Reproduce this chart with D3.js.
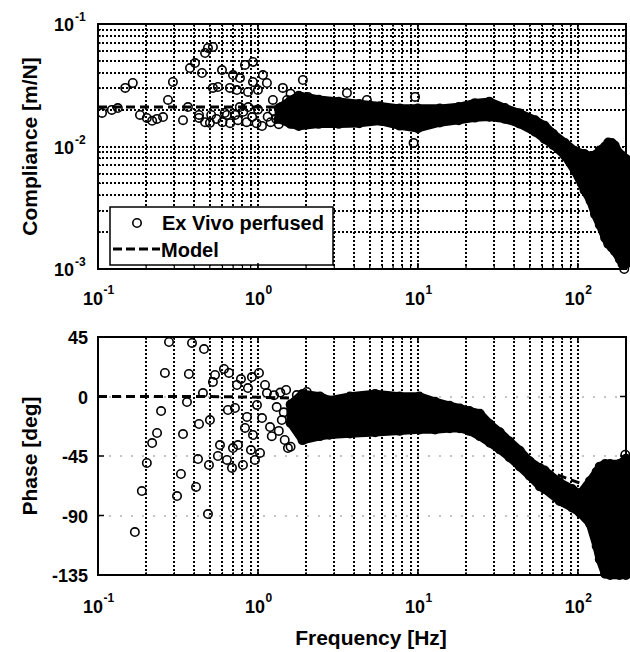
<!DOCTYPE html>
<html>
<head>
<meta charset="utf-8">
<script src="https://cdn.jsdelivr.net/npm/d3@7"></script>
<style>
  html, body { margin: 0; padding: 0; background: #fff; }
  svg { display: block; }
  text { font-family: "Liberation Sans", Arial, Helvetica, sans-serif; font-weight: bold; fill: #000; }
</style>
</head>
<body>
<svg id="chart" width="630" height="652"></svg>
<script>
// ---- Axis ticks ----
const freqMajorTicks = [0.1, 1, 10, 100];
const freqTickExp = ["-1", "0", "1", "2"];
const complianceMajorTicks = [1e-3, 1e-2, 1e-1];
const complianceTickExp = ["-3", "-2", "-1"];
const phaseTicks = [-135, -90, -45, 0, 45];
const phaseTickLabels = ["-135", "-90", "-45", "0", "45"];

// ---- Measured compliance, sparse low-frequency points ----
const compFreq = [0.106, 0.122, 0.133, 0.148, 0.165, 0.183, 0.202, 0.218, 0.234, 0.255, 0.274, 0.294,
  0.34, 0.365, 0.376, 0.404, 0.428, 0.447, 0.467, 0.487, 0.523, 0.523, 0.501, 0.562, 0.596, 0.64,
  0.668, 0.698, 0.739, 0.772, 0.83, 0.866, 0.931, 0.931, 1.0, 1.074, 1.138, 1.24, 1.43, 1.52, 1.91,
  2.05, 3.6, 4.8, 9.6, 9.4,
  0.428, 0.467, 0.51, 0.55, 0.6, 0.62, 0.67, 0.72, 0.75, 0.81, 0.85, 0.92, 0.98, 1.06, 1.0, 0.87, 0.77,
  1.15, 1.2, 1.25, 1.3, 1.35, 1.4, 1.45, 1.55, 1.6, 1.65,
  190, 195];
const compValue = [0.0188, 0.0199, 0.0206, 0.0301, 0.033, 0.0181, 0.0171, 0.0162, 0.0168, 0.0174, 0.024, 0.0336,
  0.0164, 0.021, 0.0437, 0.048, 0.0171, 0.0398, 0.058, 0.0637, 0.0649, 0.0301, 0.0156, 0.0306, 0.0421, 0.0181,
  0.0301, 0.0383, 0.0289, 0.0362, 0.0463, 0.0279, 0.049, 0.0336, 0.0289, 0.0383, 0.033, 0.024, 0.0301, 0.024, 0.0349,
  0.0254, 0.0274, 0.024, 0.0254, 0.0107,
  0.0181, 0.0158, 0.0181, 0.0168, 0.0158, 0.0188, 0.0155, 0.0181, 0.0164, 0.0192, 0.0158, 0.0174, 0.0155, 0.0147, 0.02, 0.021, 0.021,
  0.0175, 0.0158, 0.0195, 0.0168, 0.0152, 0.021, 0.0185, 0.0162, 0.027, 0.0222,
  0.00132, 0.001];

// ---- Measured compliance, dense band (upper / lower marker centres) ----
const compBandFreq = [1.35, 1.6, 1.8, 2.4, 3.2, 4.3, 5.8, 7.7, 10, 13.7, 18, 22.7, 28, 35, 43, 54, 62, 70,
  83, 96, 110, 120, 128, 137, 148, 155, 163, 170, 183, 190, 200];
const compBandHigh = [0.0205, 0.0238, 0.026, 0.0241, 0.0232, 0.0223, 0.0213, 0.0204, 0.0204, 0.0204, 0.021,
  0.0226, 0.0232, 0.0206, 0.0187, 0.0164, 0.0148, 0.0127, 0.0107, 0.0092, 0.0087, 0.0083, 0.0085, 0.0093,
  0.010, 0.0108, 0.0107, 0.0102, 0.0087, 0.0083, 0.0079];
const compBandLow = [0.0168, 0.0153, 0.0147, 0.0153, 0.0153, 0.0155, 0.0162, 0.0148, 0.0141, 0.0157, 0.0164,
  0.0172, 0.0175, 0.0168, 0.0154, 0.0132, 0.0115, 0.0103, 0.0084, 0.0063, 0.0044, 0.0036, 0.0028, 0.0023,
  0.0018, 0.0016, 0.0015, 0.0014, 0.0012, 0.0011, 0.0011];

// ---- Measured phase, sparse low-frequency points ----
const phaseFreq = [0.17, 0.188, 0.202, 0.218, 0.234, 0.248, 0.262, 0.278, 0.312, 0.33, 0.34, 0.36, 0.37, 0.387,
  0.41, 0.422, 0.428, 0.453, 0.46, 0.487, 0.494, 0.501, 0.523, 0.539, 0.562, 0.579, 0.613, 0.64, 0.649, 0.659,
  0.688, 0.698, 0.718, 0.739, 0.75, 0.783, 0.806, 0.83, 0.854, 0.866, 0.904, 0.917, 0.931, 0.958, 0.986, 1.015,
  1.03, 1.06, 1.107, 1.138, 1.19, 1.31, 1.41, 1.47, 1.5, 1.54, 1.75, 1.83, 2.02,
  1.22, 1.26, 1.35, 1.38, 1.45, 1.6, 1.65, 1.7,
  198];
const phaseValue = [-102.5, -71.5, -50.3, -35.2, -27.6, -11, 17.8, 41.2, -75.3, -58.6, -28.4, -4.2, 17, 40.5,
  -68.4, -47.3, -20.8, 2.6, 35.9, -88.9, -51.8, -17.8, 11, 16.3, -45, -36.7, 20.8, -48, -10.2, 17.8,
  -54, -39, -8.7, 8.7, -36.7, 13.2, -51.8, -23.8, -15.5, 6.4, -40.5, 14.7, -29.1, -48, -6.4, 17.8,
  -42.7, -16.3, 8.7, 2.6, -23.1, -8, -17.8, -32.9, 4.9, -39, 1.1, -27.6, 3.4,
  -30, 1, -26, 3, -12, -38, -8, -20,
  -44];

// ---- Measured phase, dense band (upper / lower marker centres) ----
const phaseBandFreq = [1.6, 1.9, 2.44, 2.8, 3.76, 5.4, 7.7, 10.2, 12.8, 15.8, 18.3, 21, 24.4, 28.2, 32.5,
  37.4, 43.4, 50, 57.9, 62, 77, 92, 103, 119, 131, 137, 148, 159, 182, 200];
const phaseBandHigh = [-6, 2, 0, -3, 0, 2, 0, 0, -4, -7, -9, -11, -13, -21, -27, -34, -41, -49, -54, -56,
  -65, -70, -74, -64, -57, -53, -51, -51, -51, -47];
const phaseBandLow = [-20, -33, -30, -29, -28, -27, -26, -25, -25, -24, -24, -26, -30, -35, -40, -46, -53,
  -60, -68, -70, -79, -84, -88, -96, -113, -123, -134, -135, -135, -135];

// ---- Model ----
const modelFreq = [0.1, 0.2, 0.5, 1, 2, 5, 10, 20, 30, 50, 70, 100, 150, 200];
const modelComp = [0.021, 0.021, 0.021, 0.021, 0.021, 0.0208, 0.0205, 0.0198, 0.0185, 0.0155, 0.012, 0.0085, 0.0055, 0.004];
const modelPhase = [0, 0, 0, -0.5, -1.5, -5, -11, -21, -30, -49, -58, -65, -71, -75];

// ---- Layout ----
const svg = d3.select("#chart");
const left = 98, right = 626;
const top1 = 24, bottom1 = 269;
const top2 = 337, bottom2 = 575;
const R = 4.2;

const x = d3.scaleLog().domain([0.1, 200]).range([left, right]);
const yC = d3.scaleLog().domain([1e-3, 1e-1]).range([bottom1, top1]);
const yP = d3.scaleLinear().domain([-135, 45]).range([bottom2, top2]);

const xGridTicks = x.ticks().filter(v => v > 0.1 * 1.001 && v < 200 * 0.999);
const yGridTicks = yC.ticks().filter(v => v > 1e-3 * 1.001 && v < 1e-1 * 0.999);

// heavy dotted grid, snapped to whole pixels so the dots stay dark
const gridDots = { stroke: "#000", width: 2, dash: "2,2" };
const snap = v => Math.round(v);

function drawGridV(g, y0, y1) {
  g.selectAll(null).data(xGridTicks).enter().append("line")
    .attr("x1", d => snap(x(d))).attr("x2", d => snap(x(d)))
    .attr("y1", y0).attr("y2", y1)
    .attr("stroke", gridDots.stroke).attr("stroke-width", gridDots.width)
    .attr("stroke-dasharray", gridDots.dash)
    .attr("shape-rendering", "crispEdges");
}

// clip paths for model lines
const defs = svg.append("defs");
defs.append("clipPath").attr("id", "clipTop").append("rect")
  .attr("x", left).attr("y", top1).attr("width", right - left).attr("height", bottom1 - top1);
defs.append("clipPath").attr("id", "clipBot").append("rect")
  .attr("x", left).attr("y", top2).attr("width", right - left).attr("height", bottom2 - top2);

// ================= Compliance panel =================
const g1 = svg.append("g");
drawGridV(g1, top1, bottom1);
g1.selectAll(null).data(yGridTicks).enter().append("line")
  .attr("x1", left).attr("x2", right)
  .attr("y1", d => snap(yC(d))).attr("y2", d => snap(yC(d)))
  .attr("stroke", gridDots.stroke).attr("stroke-width", gridDots.width)
  .attr("stroke-dasharray", gridDots.dash)
  .attr("shape-rendering", "crispEdges");

// dense band
const compBand = compBandFreq.map((f, i) => ({ f, hi: compBandHigh[i], lo: compBandLow[i] }));
g1.append("path").datum(compBand)
  .attr("d", d3.area().x(d => x(d.f)).y0(d => yC(d.lo)).y1(d => yC(d.hi)))
  .attr("fill", "#000").attr("stroke", "#000").attr("stroke-width", 2 * R)
  .attr("stroke-linejoin", "round");
g1.selectAll(null).data(compBand.flatMap(d => [{ f: d.f, v: d.hi }, { f: d.f, v: d.lo }]))
  .enter().append("circle")
  .attr("cx", d => x(d.f)).attr("cy", d => yC(d.v)).attr("r", R)
  .attr("fill", "#000").attr("stroke", "#000").attr("stroke-width", 1.5);

// sparse points
g1.selectAll(null).data(compFreq.map((f, i) => ({ f, v: compValue[i] })))
  .enter().append("circle")
  .attr("cx", d => x(d.f)).attr("cy", d => yC(d.v)).attr("r", R)
  .attr("fill", "none").attr("stroke", "#000").attr("stroke-width", 1.6);

// model
g1.append("path").datum(modelFreq.map((f, i) => ({ f, v: modelComp[i] })))
  .attr("clip-path", "url(#clipTop)")
  .attr("d", d3.line().x(d => x(d.f)).y(d => yC(d.v)))
  .attr("fill", "none").attr("stroke", "#000").attr("stroke-width", 3)
  .attr("stroke-dasharray", "9,5");

// legend
const lg = g1.append("g");
lg.append("rect").attr("x", 110).attr("y", 207).attr("width", 223).attr("height", 58)
  .attr("fill", "#fff").attr("stroke", "#000").attr("stroke-width", 1.5);
lg.append("circle").attr("cx", 137).attr("cy", 223).attr("r", R)
  .attr("fill", "none").attr("stroke", "#000").attr("stroke-width", 1.6);
lg.append("text").attr("x", 162).attr("y", 230).attr("font-size", 20).text("Ex Vivo perfused");
lg.append("line").attr("x1", 113).attr("x2", 160).attr("y1", 249).attr("y2", 249)
  .attr("stroke", "#000").attr("stroke-width", 3).attr("stroke-dasharray", "9,4");
lg.append("text").attr("x", 161).attr("y", 257).attr("font-size", 20).text("Model");

// frame and ticks
function frame(g, y0, y1) {
  g.append("rect").attr("x", left).attr("y", y0).attr("width", right - left).attr("height", y1 - y0)
    .attr("fill", "none").attr("stroke", "#000").attr("stroke-width", 2);
  g.selectAll(null).data(freqMajorTicks.slice(1)).enter().append("path")
    .attr("d", d => `M${x(d)},${y1}v-6M${x(d)},${y0}v6`)
    .attr("stroke", "#000").attr("stroke-width", 1.5);
  g.selectAll(null).data(xGridTicks).enter().append("path")
    .attr("d", d => `M${x(d)},${y1}v-3M${x(d)},${y0}v3`)
    .attr("stroke", "#000").attr("stroke-width", 1.2);
}
frame(g1, top1, bottom1);
g1.selectAll(null).data(yGridTicks).enter().append("path")
  .attr("d", d => `M${left},${yC(d)}h3M${right},${yC(d)}h-3`)
  .attr("stroke", "#000").attr("stroke-width", 1.2);

// tick labels, compliance axis
complianceMajorTicks.forEach((v, i) => {
  g1.append("text").attr("x", 74).attr("y", yC(v) + 7)
    .attr("text-anchor", "end").attr("font-size", 18).text("10");
  g1.append("text").attr("x", 75).attr("y", yC(v) - 3)
    .attr("font-size", 12).text(complianceTickExp[i]);
});

function xLabels(g, baseY) {
  freqMajorTicks.forEach((v, i) => {
    const cx = x(v);
    const w = 20 + (freqTickExp[i].length > 1 ? 10 : 6);
    g.append("text").attr("x", cx - w / 2).attr("y", baseY).attr("font-size", 18).text("10");
    g.append("text").attr("x", cx - w / 2 + 20.5).attr("y", baseY - 11).attr("font-size", 12).text(freqTickExp[i]);
  });
}
xLabels(g1, 305);

g1.append("text").attr("transform", `translate(37,${(top1 + bottom1) / 2}) rotate(-90)`)
  .attr("text-anchor", "middle").attr("font-size", 21).text("Compliance [m/N]");

// ================= Phase panel =================
const g2 = svg.append("g");
drawGridV(g2, top2, bottom2);
g2.selectAll(null).data([-90, -45, 0]).enter().append("line")
  .attr("x1", left).attr("x2", right)
  .attr("y1", d => snap(yP(d))).attr("y2", d => snap(yP(d)))
  .attr("stroke", "#8a8a8a").attr("stroke-width", 1)
  .attr("stroke-dasharray", "2,9");

const phaseBand = phaseBandFreq.map((f, i) => ({ f, hi: phaseBandHigh[i], lo: phaseBandLow[i] }));
g2.append("path").datum(phaseBand)
  .attr("d", d3.area().x(d => x(d.f)).y0(d => yP(d.lo)).y1(d => yP(d.hi)))
  .attr("fill", "#000").attr("stroke", "#000").attr("stroke-width", 2 * R)
  .attr("stroke-linejoin", "round");
g2.selectAll(null).data(phaseBand.flatMap(d => [{ f: d.f, v: d.hi }, { f: d.f, v: d.lo }]))
  .enter().append("circle")
  .attr("cx", d => x(d.f)).attr("cy", d => yP(d.v)).attr("r", R)
  .attr("fill", "#000").attr("stroke", "#000").attr("stroke-width", 1.5);

g2.selectAll(null).data(phaseFreq.map((f, i) => ({ f, v: phaseValue[i] })))
  .enter().append("circle")
  .attr("cx", d => x(d.f)).attr("cy", d => yP(d.v)).attr("r", R)
  .attr("fill", "none").attr("stroke", "#000").attr("stroke-width", 1.6);

g2.append("path").datum(modelFreq.map((f, i) => ({ f, v: modelPhase[i] })))
  .attr("clip-path", "url(#clipBot)")
  .attr("d", d3.line().x(d => x(d.f)).y(d => yP(d.v)))
  .attr("fill", "none").attr("stroke", "#000").attr("stroke-width", 3)
  .attr("stroke-dasharray", "9,5");

frame(g2, top2, bottom2);
g2.selectAll(null).data(phaseTicks).enter().append("path")
  .attr("d", d => `M${left},${yP(d)}h6M${right},${yP(d)}h-6`)
  .attr("stroke", "#000").attr("stroke-width", 1.5);

phaseTicks.forEach((v, i) => {
  g2.append("text").attr("x", 88).attr("y", yP(v) + 7)
    .attr("text-anchor", "end").attr("font-size", 18).text(phaseTickLabels[i]);
});
xLabels(g2, 613);

g2.append("text").attr("transform", `translate(37,${(top2 + bottom2) / 2}) rotate(-90)`)
  .attr("text-anchor", "middle").attr("font-size", 21).text("Phase [deg]");

svg.append("text").attr("x", 371).attr("y", 645).attr("text-anchor", "middle")
  .attr("font-size", 21).text("Frequency [Hz]");
</script>
</body>
</html>
